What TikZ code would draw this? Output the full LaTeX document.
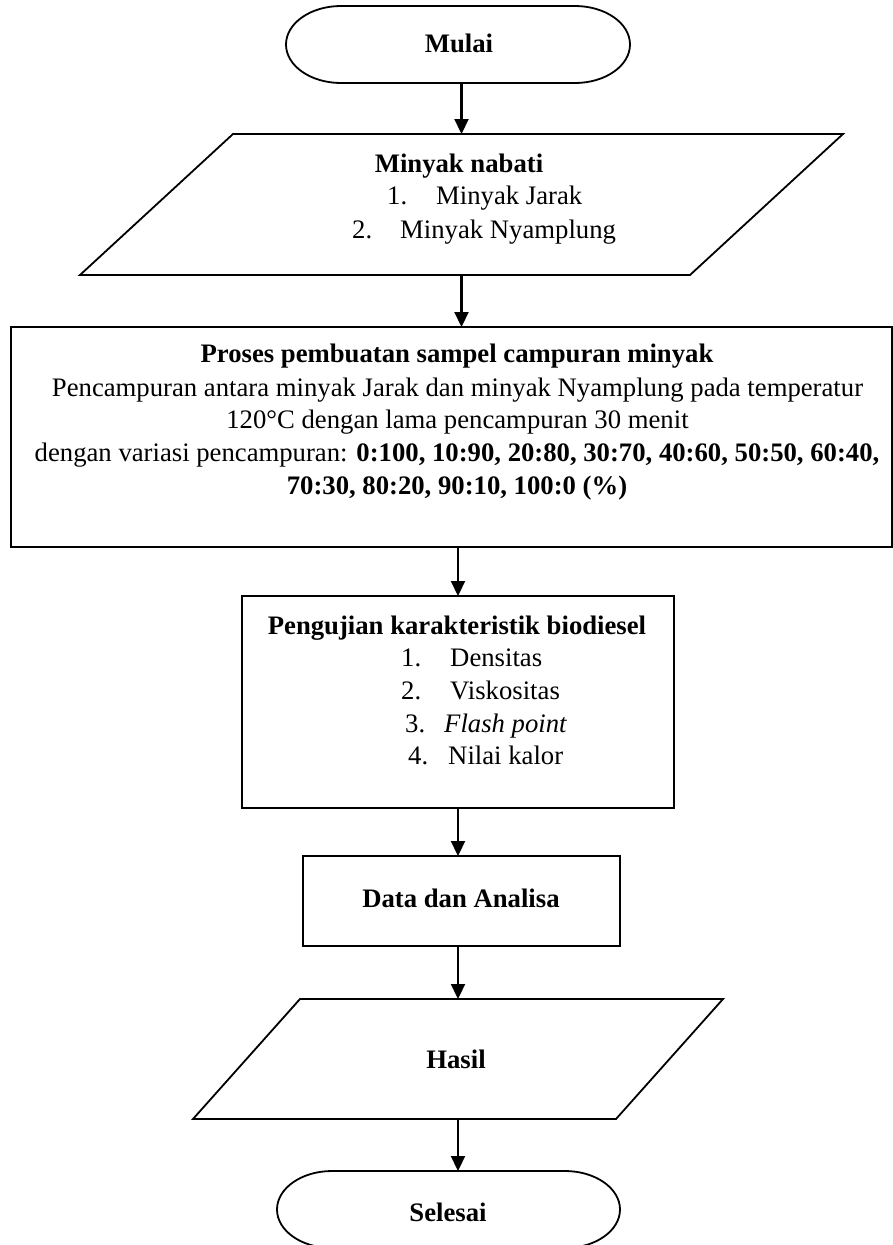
\documentclass[tikz,border=0pt]{standalone}
\usepackage{fontspec}
\setmainfont{Liberation Serif}
\usetikzlibrary{arrows.meta,calc}
\begin{document}
\begin{tikzpicture}[x=1pt,y=-1pt,
  rectbox/.style={draw, line width=2.4pt, inner sep=0pt, outer sep=0pt},
  ghost/.style={draw=none, inner sep=0pt, outer sep=0pt},
  outline/.style={line width=1.8pt, line join=miter},
  arr/.style={line width=2.2pt, -{Triangle[length=15pt,width=14pt]}},
  txt/.style={anchor=base, inner sep=0pt, font=\fontsize{26.7pt}{32pt}\selectfont},
  txtl/.style={txt, anchor=base west}]
\useasboundingbox (0,0) rectangle (893,1245);

% ---- shapes ----
\node[ghost, minimum width=344pt, minimum height=77pt] (mulai) at (458,44.5) {};
\draw[outline] ([xshift=55pt]mulai.north west) -- ([xshift=-55pt]mulai.north east)
  arc[start angle=90, end angle=-90, x radius=55pt, y radius=38.5pt]
  -- ([xshift=55pt]mulai.south west)
  arc[start angle=270, end angle=90, x radius=55pt, y radius=38.5pt] -- cycle;

\node[ghost, minimum width=763pt, minimum height=141pt] (p1) at (461.5,204.5) {};
\draw[outline] ([xshift=153pt]p1.north west) -- (p1.north east)
  -- ([xshift=-153pt]p1.south east) -- (p1.south west) -- cycle;

\node[rectbox, minimum width=881pt, minimum height=220pt] (box1) at (451.5,437) {};
\node[rectbox, minimum width=432pt, minimum height=212pt] (box2) at (458,702) {};
\node[rectbox, minimum width=317pt, minimum height=90pt] (data) at (461.5,901) {};

\node[ghost, minimum width=530pt, minimum height=120pt] (p2) at (458,1059) {};
\draw[outline] ([xshift=107pt]p2.north west) -- (p2.north east)
  -- ([xshift=-107pt]p2.south east) -- (p2.south west) -- cycle;

\node[ghost, minimum width=343pt, minimum height=77pt] (selesai) at (448.5,1209.5) {};
\draw[outline] ([xshift=55pt]selesai.north west) -- ([xshift=-55pt]selesai.north east)
  arc[start angle=90, end angle=-90, x radius=55pt, y radius=38.5pt]
  -- ([xshift=55pt]selesai.south west)
  arc[start angle=270, end angle=90, x radius=55pt, y radius=38.5pt] -- cycle;

% ---- connectors ----
\draw[arr] (p1.north |- mulai.south) -- (p1.north);
\draw[arr] (p1.south) -- (p1.south |- box1.north);
\draw[arr] (box2.north |- box1.south) -- (box2.north);
\draw[arr] (box2.south) -- (box2.south |- data.north);
\draw[arr] (p2.north |- data.south) -- (p2.north);
\draw[arr] (p2.south) -- (p2.south |- selesai.north);

% ---- texts ----
\node[txt] (tmulai) at (459,52) {\bfseries Mulai};

\node[txt] (tp1) at (459,172) {\bfseries Minyak nabati};
\node[txtl] (tp1a) at (387,204) {1.\hspace{29pt}Minyak Jarak};
\node[txtl] (tp1b) at (352,238) {2.\hspace{28pt}Minyak Nyamplung};

\node[txt] (tb1) at (457,362) {\bfseries Proses pembuatan sampel campuran minyak};
\node[txt] (tb1a) at (457.5,396) {Pencampuran antara minyak Jarak dan minyak Nyamplung pada temperatur};
\node[txt] (tb1b) at (457.5,428) {120°C dengan lama pencampuran 30 menit};
\node[txt] (tb1c) at (457,461) {dengan variasi pencampuran: \textbf{0:100, 10:90, 20:80, 30:70, 40:60, 50:50, 60:40,}};
\node[txt] (tb1d) at (457,494) {\bfseries 70:30, 80:20, 90:10, 100:0 (\%)};

\node[txt] (tb2) at (457,634) {\bfseries Pengujian karakteristik biodiesel};
\node[txtl] (tb2a) at (401,666) {1.\hspace{29pt}Densitas};
\node[txtl] (tb2b) at (401,699) {2.\hspace{29pt}Viskositas};
\node[txtl] (tb2c) at (405,732) {3.\hspace{19pt}\textit{Flash point}};
\node[txtl] (tb2d) at (408,764) {4.\hspace{20pt}Nilai kalor};

\node[txt] (tdata) at (461,907) {\bfseries Data dan Analisa};
\node[txt] (thasil) at (456,1068) {\bfseries Hasil};
\node[txt] (tselesai) at (448,1221) {\bfseries Selesai};
\end{tikzpicture}
\end{document}
